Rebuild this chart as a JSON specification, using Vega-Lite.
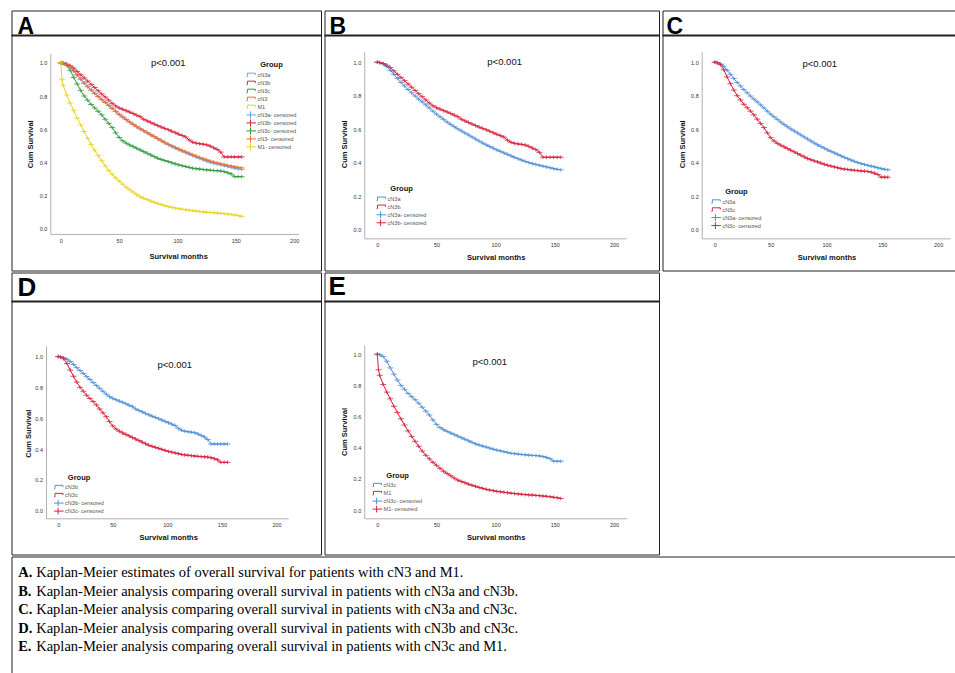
{
 "$schema": "https://vega.github.io/schema/vega-lite/v6.json",
 "padding": {"left": 9.5, "top": 9.5, "right": 0, "bottom": 0},
 "background": "white",
 "datasets": {
  "cens": [{"g":"cN3a","c":"cN3a- censored"},{"g":"cN3b","c":"cN3b- censored"},{"g":"cN3c","c":"cN3c- censored"},{"g":"cN3","c":"cN3- censored"},{"g":"M1","c":"M1- censored"}],
  "km": [
{"g":"cN3a","t":0,"s":1},{"g":"cN3a","t":2,"s":0.998},{"g":"cN3a","t":5,"s":0.99},{"g":"cN3a","t":8,"s":0.975},{"g":"cN3a","t":11,"s":0.952},{"g":"cN3a","t":14,"s":0.928},{"g":"cN3a","t":17,"s":0.903},{"g":"cN3a","t":20,"s":0.879},{"g":"cN3a","t":23,"s":0.858},{"g":"cN3a","t":26,"s":0.837},{"g":"cN3a","t":29,"s":0.817},{"g":"cN3a","t":32,"s":0.798},{"g":"cN3a","t":35,"s":0.78},{"g":"cN3a","t":38,"s":0.763},{"g":"cN3a","t":41,"s":0.745},{"g":"cN3a","t":44,"s":0.727},{"g":"cN3a","t":47,"s":0.708},{"g":"cN3a","t":50,"s":0.69},{"g":"cN3a","t":53,"s":0.674},{"g":"cN3a","t":56,"s":0.659},{"g":"cN3a","t":59,"s":0.643},{"g":"cN3a","t":62,"s":0.629},{"g":"cN3a","t":65,"s":0.615},{"g":"cN3a","t":68,"s":0.602},{"g":"cN3a","t":71,"s":0.59},{"g":"cN3a","t":74,"s":0.578},{"g":"cN3a","t":77,"s":0.566},{"g":"cN3a","t":80,"s":0.554},{"g":"cN3a","t":83,"s":0.542},{"g":"cN3a","t":86,"s":0.53},{"g":"cN3a","t":89,"s":0.518},{"g":"cN3a","t":92,"s":0.507},{"g":"cN3a","t":95,"s":0.497},{"g":"cN3a","t":98,"s":0.487},{"g":"cN3a","t":101,"s":0.477},{"g":"cN3a","t":104,"s":0.468},{"g":"cN3a","t":107,"s":0.459},{"g":"cN3a","t":110,"s":0.45},{"g":"cN3a","t":113,"s":0.441},{"g":"cN3a","t":116,"s":0.432},{"g":"cN3a","t":119,"s":0.424},{"g":"cN3a","t":122,"s":0.416},{"g":"cN3a","t":125,"s":0.408},{"g":"cN3a","t":128,"s":0.401},{"g":"cN3a","t":131,"s":0.395},{"g":"cN3a","t":134,"s":0.39},{"g":"cN3a","t":137,"s":0.385},{"g":"cN3a","t":140,"s":0.38},{"g":"cN3a","t":143,"s":0.375},{"g":"cN3a","t":146,"s":0.37},{"g":"cN3a","t":149,"s":0.365},{"g":"cN3a","t":152,"s":0.361},{"g":"cN3a","t":155,"s":0.358},
{"g":"cN3b","t":0,"s":1},{"g":"cN3b","t":2,"s":0.998},{"g":"cN3b","t":5,"s":0.992},{"g":"cN3b","t":8,"s":0.982},{"g":"cN3b","t":11,"s":0.968},{"g":"cN3b","t":14,"s":0.948},{"g":"cN3b","t":17,"s":0.928},{"g":"cN3b","t":20,"s":0.909},{"g":"cN3b","t":23,"s":0.89},{"g":"cN3b","t":26,"s":0.87},{"g":"cN3b","t":29,"s":0.851},{"g":"cN3b","t":32,"s":0.831},{"g":"cN3b","t":35,"s":0.812},{"g":"cN3b","t":38,"s":0.794},{"g":"cN3b","t":41,"s":0.775},{"g":"cN3b","t":44,"s":0.756},{"g":"cN3b","t":47,"s":0.74},{"g":"cN3b","t":50,"s":0.728},{"g":"cN3b","t":53,"s":0.72},{"g":"cN3b","t":56,"s":0.711},{"g":"cN3b","t":59,"s":0.703},{"g":"cN3b","t":62,"s":0.694},{"g":"cN3b","t":65,"s":0.684},{"g":"cN3b","t":68,"s":0.675},{"g":"cN3b","t":71,"s":0.66},{"g":"cN3b","t":74,"s":0.65},{"g":"cN3b","t":77,"s":0.641},{"g":"cN3b","t":80,"s":0.631},{"g":"cN3b","t":83,"s":0.622},{"g":"cN3b","t":86,"s":0.613},{"g":"cN3b","t":89,"s":0.605},{"g":"cN3b","t":92,"s":0.597},{"g":"cN3b","t":95,"s":0.588},{"g":"cN3b","t":98,"s":0.579},{"g":"cN3b","t":101,"s":0.57},{"g":"cN3b","t":104,"s":0.562},{"g":"cN3b","t":107,"s":0.553},{"g":"cN3b","t":110,"s":0.535},{"g":"cN3b","t":113,"s":0.522},{"g":"cN3b","t":116,"s":0.516},{"g":"cN3b","t":119,"s":0.512},{"g":"cN3b","t":122,"s":0.51},{"g":"cN3b","t":125,"s":0.506},{"g":"cN3b","t":128,"s":0.498},{"g":"cN3b","t":131,"s":0.488},{"g":"cN3b","t":134,"s":0.478},{"g":"cN3b","t":137,"s":0.462},{"g":"cN3b","t":140,"s":0.433},{"g":"cN3b","t":143,"s":0.433},{"g":"cN3b","t":146,"s":0.433},{"g":"cN3b","t":149,"s":0.433},{"g":"cN3b","t":152,"s":0.433},{"g":"cN3b","t":155,"s":0.433},
{"g":"cN3c","t":0,"s":1},{"g":"cN3c","t":2,"s":0.997},{"g":"cN3c","t":5,"s":0.985},{"g":"cN3c","t":8,"s":0.955},{"g":"cN3c","t":11,"s":0.912},{"g":"cN3c","t":14,"s":0.872},{"g":"cN3c","t":17,"s":0.834},{"g":"cN3c","t":20,"s":0.8},{"g":"cN3c","t":23,"s":0.775},{"g":"cN3c","t":26,"s":0.749},{"g":"cN3c","t":29,"s":0.728},{"g":"cN3c","t":32,"s":0.708},{"g":"cN3c","t":35,"s":0.686},{"g":"cN3c","t":38,"s":0.66},{"g":"cN3c","t":41,"s":0.635},{"g":"cN3c","t":44,"s":0.61},{"g":"cN3c","t":47,"s":0.578},{"g":"cN3c","t":50,"s":0.55},{"g":"cN3c","t":53,"s":0.53},{"g":"cN3c","t":56,"s":0.516},{"g":"cN3c","t":59,"s":0.505},{"g":"cN3c","t":62,"s":0.495},{"g":"cN3c","t":65,"s":0.485},{"g":"cN3c","t":68,"s":0.475},{"g":"cN3c","t":71,"s":0.465},{"g":"cN3c","t":74,"s":0.455},{"g":"cN3c","t":77,"s":0.445},{"g":"cN3c","t":80,"s":0.435},{"g":"cN3c","t":83,"s":0.425},{"g":"cN3c","t":86,"s":0.418},{"g":"cN3c","t":89,"s":0.411},{"g":"cN3c","t":92,"s":0.405},{"g":"cN3c","t":95,"s":0.398},{"g":"cN3c","t":98,"s":0.391},{"g":"cN3c","t":101,"s":0.385},{"g":"cN3c","t":104,"s":0.38},{"g":"cN3c","t":107,"s":0.375},{"g":"cN3c","t":110,"s":0.37},{"g":"cN3c","t":113,"s":0.365},{"g":"cN3c","t":116,"s":0.362},{"g":"cN3c","t":119,"s":0.36},{"g":"cN3c","t":122,"s":0.357},{"g":"cN3c","t":125,"s":0.355},{"g":"cN3c","t":128,"s":0.353},{"g":"cN3c","t":131,"s":0.351},{"g":"cN3c","t":134,"s":0.35},{"g":"cN3c","t":137,"s":0.348},{"g":"cN3c","t":140,"s":0.344},{"g":"cN3c","t":143,"s":0.338},{"g":"cN3c","t":146,"s":0.33},{"g":"cN3c","t":149,"s":0.314},{"g":"cN3c","t":152,"s":0.314},{"g":"cN3c","t":155,"s":0.314},
{"g":"cN3","t":0,"s":1},{"g":"cN3","t":2,"s":0.998},{"g":"cN3","t":5,"s":0.99},{"g":"cN3","t":8,"s":0.975},{"g":"cN3","t":11,"s":0.951},{"g":"cN3","t":14,"s":0.926},{"g":"cN3","t":17,"s":0.901},{"g":"cN3","t":20,"s":0.877},{"g":"cN3","t":23,"s":0.856},{"g":"cN3","t":26,"s":0.835},{"g":"cN3","t":29,"s":0.815},{"g":"cN3","t":32,"s":0.796},{"g":"cN3","t":35,"s":0.778},{"g":"cN3","t":38,"s":0.761},{"g":"cN3","t":41,"s":0.743},{"g":"cN3","t":44,"s":0.725},{"g":"cN3","t":47,"s":0.707},{"g":"cN3","t":50,"s":0.689},{"g":"cN3","t":53,"s":0.673},{"g":"cN3","t":56,"s":0.658},{"g":"cN3","t":59,"s":0.643},{"g":"cN3","t":62,"s":0.629},{"g":"cN3","t":65,"s":0.616},{"g":"cN3","t":68,"s":0.603},{"g":"cN3","t":71,"s":0.591},{"g":"cN3","t":74,"s":0.579},{"g":"cN3","t":77,"s":0.567},{"g":"cN3","t":80,"s":0.556},{"g":"cN3","t":83,"s":0.544},{"g":"cN3","t":86,"s":0.533},{"g":"cN3","t":89,"s":0.521},{"g":"cN3","t":92,"s":0.51},{"g":"cN3","t":95,"s":0.5},{"g":"cN3","t":98,"s":0.49},{"g":"cN3","t":101,"s":0.481},{"g":"cN3","t":104,"s":0.472},{"g":"cN3","t":107,"s":0.463},{"g":"cN3","t":110,"s":0.455},{"g":"cN3","t":113,"s":0.446},{"g":"cN3","t":116,"s":0.438},{"g":"cN3","t":119,"s":0.43},{"g":"cN3","t":122,"s":0.422},{"g":"cN3","t":125,"s":0.415},{"g":"cN3","t":128,"s":0.408},{"g":"cN3","t":131,"s":0.402},{"g":"cN3","t":134,"s":0.397},{"g":"cN3","t":137,"s":0.392},{"g":"cN3","t":140,"s":0.387},{"g":"cN3","t":143,"s":0.382},{"g":"cN3","t":146,"s":0.378},{"g":"cN3","t":149,"s":0.374},{"g":"cN3","t":152,"s":0.37},{"g":"cN3","t":155,"s":0.367},
{"g":"M1","t":0,"s":1},{"g":"M1","t":1,"s":0.9},{"g":"M1","t":2,"s":0.865},{"g":"M1","t":5,"s":0.806},{"g":"M1","t":8,"s":0.757},{"g":"M1","t":11,"s":0.714},{"g":"M1","t":14,"s":0.666},{"g":"M1","t":17,"s":0.626},{"g":"M1","t":20,"s":0.586},{"g":"M1","t":23,"s":0.546},{"g":"M1","t":26,"s":0.508},{"g":"M1","t":29,"s":0.473},{"g":"M1","t":32,"s":0.441},{"g":"M1","t":35,"s":0.41},{"g":"M1","t":38,"s":0.379},{"g":"M1","t":41,"s":0.352},{"g":"M1","t":44,"s":0.329},{"g":"M1","t":47,"s":0.307},{"g":"M1","t":50,"s":0.288},{"g":"M1","t":53,"s":0.269},{"g":"M1","t":56,"s":0.25},{"g":"M1","t":59,"s":0.235},{"g":"M1","t":62,"s":0.221},{"g":"M1","t":65,"s":0.206},{"g":"M1","t":68,"s":0.193},{"g":"M1","t":71,"s":0.184},{"g":"M1","t":74,"s":0.176},{"g":"M1","t":77,"s":0.167},{"g":"M1","t":80,"s":0.16},{"g":"M1","t":83,"s":0.153},{"g":"M1","t":86,"s":0.146},{"g":"M1","t":89,"s":0.14},{"g":"M1","t":92,"s":0.134},{"g":"M1","t":95,"s":0.129},{"g":"M1","t":98,"s":0.125},{"g":"M1","t":101,"s":0.121},{"g":"M1","t":104,"s":0.118},{"g":"M1","t":107,"s":0.115},{"g":"M1","t":110,"s":0.112},{"g":"M1","t":113,"s":0.109},{"g":"M1","t":116,"s":0.107},{"g":"M1","t":119,"s":0.104},{"g":"M1","t":122,"s":0.102},{"g":"M1","t":125,"s":0.1},{"g":"M1","t":128,"s":0.098},{"g":"M1","t":131,"s":0.097},{"g":"M1","t":134,"s":0.095},{"g":"M1","t":137,"s":0.093},{"g":"M1","t":140,"s":0.091},{"g":"M1","t":143,"s":0.089},{"g":"M1","t":146,"s":0.086},{"g":"M1","t":149,"s":0.083},{"g":"M1","t":152,"s":0.08},{"g":"M1","t":155,"s":0.075}
  ]
 },
 "spacing": 0,
 "resolve": {"scale": {"color": "independent", "shape": "independent", "stroke": "independent"}, "legend": {"color": "independent", "shape": "independent"}},
 "vconcat": [
  {"hconcat": [
   {"width": 309.5, "height": 260, "layer": [
     {"data": {"values": [{}]}, "mark": {"type": "rule", "color": "#222222", "strokeWidth": 2}, "encoding": {"x": {"datum": -42.29, "type": "quantitative"}, "x2": {"datum": 222.99}, "y": {"datum": 1.1645, "type": "quantitative"}}},
     {"data": {"values": [{"k": "A"}]}, "mark": {"type": "text", "align": "left", "baseline": "alphabetic", "fontSize": 23, "fontWeight": "bold", "color": "#000"}, "encoding": {"x": {"datum": -37.15, "type": "quantitative"}, "y": {"datum": 1.1747, "type": "quantitative"}, "text": {"field": "k"}}},
     {"data": {"values": [{}]}, "mark": {"type": "rule", "color": "#b0b0b0", "strokeWidth": 1}, "encoding": {"x": {"datum": -8.6, "type": "quantitative"}, "y": {"datum": -0.034, "type": "quantitative"}, "y2": {"datum": 1.054}}},
     {"data": {"values": [{}]}, "mark": {"type": "rule", "color": "#b0b0b0", "strokeWidth": 1}, "encoding": {"x": {"datum": -8.6, "type": "quantitative"}, "x2": {"datum": 204}, "y": {"datum": -0.034, "type": "quantitative"}}},
     {"data": {"name": "km"}, "transform": [{"filter": {"field": "g", "oneOf": ["cN3a","cN3b","cN3c","cN3","M1"]}}],
      "mark": {"type": "line", "strokeWidth": 1},
      "encoding": {
       "x": {"field": "t", "type": "quantitative", "title": "Survival months", "scale": {"domain": [-42.29, 222.99], "nice": false, "zero": false}, "axis": {"values": [0,50,100,150,200], "offset": -36, "labelPadding": 3.5, "titleX": 166.7, "titleY": 21.7, "titleBaseline": "middle"}},
       "y": {"field": "s", "type": "quantitative", "title": "Cum Survival", "scale": {"domain": [-0.2512, 1.3151], "nice": false, "zero": false}, "axis": {"values": [0,0.2,0.4,0.6,0.8,1], "format": ".1f", "offset": -39.3, "labelPadding": 4, "titleX": -20.3, "titleY": 133.3, "titleBaseline": "middle"}},
       "stroke": {"field": "g", "type": "nominal", "legend": null, "scale": {"domain": ["cN3a","cN3b","cN3c","cN3","M1"], "range": ["#6fa3dd","#d91f3b","#2f9a3b","#f26b2c","#e8d41e"]}}
      }},
     {"data": {"name": "km"}, "transform": [{"filter": {"field": "g", "oneOf": ["cN3a","cN3b","cN3c","cN3","M1"]}}, {"lookup": "g", "from": {"data": {"name": "cens"}, "key": "g", "fields": ["c"]}}],
      "mark": {"type": "point", "filled": false, "strokeWidth": 0.8, "size": 14, "opacity": 1},
      "encoding": {
       "x": {"field": "t", "type": "quantitative", "title": "Survival months"},
       "y": {"field": "s", "type": "quantitative", "title": "Cum Survival"},
       "color": {"field": "c", "type": "nominal", "scale": {"domain": ["cN3a","cN3b","cN3c","cN3","M1","cN3a- censored","cN3b- censored","cN3c- censored","cN3- censored","M1- censored"], "range": ["#6fa3dd","#d91f3b","#2f9a3b","#f26b2c","#e8d41e","#6fa3dd","#d91f3b","#2f9a3b","#f26b2c","#e8d41e"]}, "legend": {"title": "Group", "orient": "none", "legendX": 235, "legendY": 50.5, "clipHeight": 7.8}},
       "shape": {"field": "c", "type": "nominal", "scale": {"domain": ["cN3a","cN3b","cN3c","cN3","M1","cN3a- censored","cN3b- censored","cN3c- censored","cN3- censored","M1- censored"], "range": ["M-1.5,0.5H-0.9V-0.5H1.4V0","M-1.5,0.5H-0.9V-0.5H1.4V0","M-1.5,0.5H-0.9V-0.5H1.4V0","M-1.5,0.5H-0.9V-0.5H1.4V0","M-1.5,0.5H-0.9V-0.5H1.4V0","M-1.6,0H1.6M0,-1V1","M-1.6,0H1.6M0,-1V1","M-1.6,0H1.6M0,-1V1","M-1.6,0H1.6M0,-1V1","M-1.6,0H1.6M0,-1V1"]}, "legend": {"title": "Group", "orient": "none", "legendX": 235, "legendY": 50.5, "clipHeight": 7.8}}
      }},
     {"data": {"values": [{"p": "p<0.001"}]}, "mark": {"type": "text", "fontSize": 9.5, "color": "#111"}, "encoding": {"x": {"datum": 92, "type": "quantitative"}, "y": {"datum": 1.0, "type": "quantitative"}, "text": {"field": "p"}}}
   ]},
   {"width": 334.5, "height": 260, "layer": [
     {"data": {"values": [{}]}, "mark": {"type": "rule", "color": "#222222", "strokeWidth": 2}, "encoding": {"x": {"datum": -44.61, "type": "quantitative"}, "x2": {"datum": 238.03}, "y": {"datum": 1.1593, "type": "quantitative"}}},
     {"data": {"values": [{"k": "B"}]}, "mark": {"type": "text", "align": "left", "baseline": "alphabetic", "fontSize": 23, "fontWeight": "bold", "color": "#000"}, "encoding": {"x": {"datum": -40.38, "type": "quantitative"}, "y": {"datum": 1.1695, "type": "quantitative"}, "text": {"field": "k"}}},
     {"data": {"values": [{}]}, "mark": {"type": "rule", "color": "#b0b0b0", "strokeWidth": 1}, "encoding": {"x": {"datum": -10.6, "type": "quantitative"}, "y": {"datum": -0.054, "type": "quantitative"}, "y2": {"datum": 1.06}}},
     {"data": {"values": [{}]}, "mark": {"type": "rule", "color": "#b0b0b0", "strokeWidth": 1}, "encoding": {"x": {"datum": -10.6, "type": "quantitative"}, "x2": {"datum": 210.7}, "y": {"datum": -0.054, "type": "quantitative"}}},
     {"data": {"name": "km"}, "transform": [{"filter": {"field": "g", "oneOf": ["cN3a","cN3b"]}}],
      "mark": {"type": "line", "strokeWidth": 1},
      "encoding": {
       "x": {"field": "t", "type": "quantitative", "title": "Survival months", "scale": {"domain": [-44.61, 238.03], "nice": false, "zero": false}, "axis": {"values": [0,50,100,150,200], "offset": -31.7, "labelPadding": 3.5, "titleX": 171.2, "titleY": 19, "titleBaseline": "middle"}},
       "y": {"field": "s", "type": "quantitative", "title": "Cum Survival", "scale": {"domain": [-0.2428, 1.3085], "nice": false, "zero": false}, "axis": {"values": [0,0.2,0.4,0.6,0.8,1], "format": ".1f", "offset": -40.2, "labelPadding": 4, "titleX": -20, "titleY": 133.3, "titleBaseline": "middle"}},
       "stroke": {"field": "g", "type": "nominal", "legend": null, "scale": {"domain": ["cN3a","cN3b"], "range": ["#4d8fd9","#d91f3b"]}}
      }},
     {"data": {"name": "km"}, "transform": [{"filter": {"field": "g", "oneOf": ["cN3a","cN3b"]}}, {"lookup": "g", "from": {"data": {"name": "cens"}, "key": "g", "fields": ["c"]}}],
      "mark": {"type": "point", "filled": false, "strokeWidth": 0.8, "size": 14, "opacity": 1},
      "encoding": {
       "x": {"field": "t", "type": "quantitative", "title": "Survival months"},
       "y": {"field": "s", "type": "quantitative", "title": "Cum Survival"},
       "color": {"field": "c", "type": "nominal", "scale": {"domain": ["cN3a","cN3b","cN3a- censored","cN3b- censored"], "range": ["#4d8fd9","#d91f3b","#4d8fd9","#d91f3b"]}, "legend": {"title": "Group", "orient": "none", "legendX": 52.1, "legendY": 174.5, "clipHeight": 7.6}},
       "shape": {"field": "c", "type": "nominal", "scale": {"domain": ["cN3a","cN3b","cN3a- censored","cN3b- censored"], "range": ["M-1.5,0.5H-0.9V-0.5H1.4V0","M-1.5,0.5H-0.9V-0.5H1.4V0","M-1.6,0H1.6M0,-1V1","M-1.6,0H1.6M0,-1V1"]}, "legend": {"title": "Group", "orient": "none", "legendX": 52.1, "legendY": 174.5, "clipHeight": 7.6}}
      }},
     {"data": {"values": [{"p": "p<0.001"}]}, "mark": {"type": "text", "fontSize": 9.5, "color": "#111"}, "encoding": {"x": {"datum": 107.6, "type": "quantitative"}, "y": {"datum": 1.0, "type": "quantitative"}, "text": {"field": "p"}}}
   ]},
   {"width": 299, "height": 260, "layer": [
     {"data": {"values": [{}]}, "mark": {"type": "rule", "color": "#222222", "strokeWidth": 2}, "encoding": {"x": {"datum": -46.84, "type": "quantitative"}, "x2": {"datum": 220.9}, "y": {"datum": 1.1593, "type": "quantitative"}}},
     {"data": {"values": [{"k": "C"}]}, "mark": {"type": "text", "align": "left", "baseline": "alphabetic", "fontSize": 23, "fontWeight": "bold", "color": "#000"}, "encoding": {"x": {"datum": -43.26, "type": "quantitative"}, "y": {"datum": 1.1695, "type": "quantitative"}, "text": {"field": "k"}}},
     {"data": {"values": [{}]}, "mark": {"type": "rule", "color": "#b0b0b0", "strokeWidth": 1}, "encoding": {"x": {"datum": -11.3, "type": "quantitative"}, "y": {"datum": -0.054, "type": "quantitative"}, "y2": {"datum": 1.06}}},
     {"data": {"values": [{}]}, "mark": {"type": "rule", "color": "#b0b0b0", "strokeWidth": 1}, "encoding": {"x": {"datum": -11.3, "type": "quantitative"}, "x2": {"datum": 211.3}, "y": {"datum": -0.054, "type": "quantitative"}}},
     {"data": {"name": "km"}, "transform": [{"filter": {"field": "g", "oneOf": ["cN3a","cN3c"]}}],
      "mark": {"type": "line", "strokeWidth": 1},
      "encoding": {
       "x": {"field": "t", "type": "quantitative", "title": "Survival months", "scale": {"domain": [-46.84, 220.9], "nice": false, "zero": false}, "axis": {"values": [0,50,100,150,200], "offset": -31.7, "labelPadding": 3.5, "titleX": 164, "titleY": 19, "titleBaseline": "middle"}},
       "y": {"field": "s", "type": "quantitative", "title": "Cum Survival", "scale": {"domain": [-0.2428, 1.3085], "nice": false, "zero": false}, "axis": {"values": [0,0.2,0.4,0.6,0.8,1], "format": ".1f", "offset": -39.7, "labelPadding": 4, "titleX": -20, "titleY": 133.3, "titleBaseline": "middle"}},
       "stroke": {"field": "g", "type": "nominal", "legend": null, "scale": {"domain": ["cN3a","cN3c"], "range": ["#4d8fd9","#d91f3b"]}}
      }},
     {"data": {"name": "km"}, "transform": [{"filter": {"field": "g", "oneOf": ["cN3a","cN3c"]}}, {"lookup": "g", "from": {"data": {"name": "cens"}, "key": "g", "fields": ["c"]}}],
      "mark": {"type": "point", "filled": false, "strokeWidth": 0.8, "size": 14, "opacity": 1},
      "encoding": {
       "x": {"field": "t", "type": "quantitative", "title": "Survival months"},
       "y": {"field": "s", "type": "quantitative", "title": "Cum Survival"},
       "color": {"field": "c", "type": "nominal", "scale": {"domain": ["cN3a","cN3c","cN3a- censored","cN3c- censored"], "range": ["#4d8fd9","#d91f3b","#4d8fd9","#d91f3b"]}, "legend": {"title": "Group", "orient": "none", "legendX": 48.9, "legendY": 177.2, "clipHeight": 7.7}},
       "shape": {"field": "c", "type": "nominal", "scale": {"domain": ["cN3a","cN3c","cN3a- censored","cN3c- censored"], "range": ["M-1.5,0.5H-0.9V-0.5H1.4V0","M-1.5,0.5H-0.9V-0.5H1.4V0","M-1.6,0H1.6M0,-1V1","M-1.6,0H1.6M0,-1V1"]}, "legend": {"title": "Group", "orient": "none", "legendX": 48.9, "legendY": 177.2, "clipHeight": 7.7}}
      }},
     {"data": {"values": [{"p": "p<0.001"}]}, "mark": {"type": "text", "fontSize": 9.5, "color": "#111"}, "encoding": {"x": {"datum": 94, "type": "quantitative"}, "y": {"datum": 0.99, "type": "quantitative"}, "text": {"field": "p"}}}
   ]}
  ], "spacing": 0, "resolve": {"scale": {"color": "independent", "shape": "independent", "stroke": "independent"}, "legend": {"color": "independent", "shape": "independent"}}},
  {"hconcat": [
   {"width": 309.5, "height": 282, "layer": [
     {"data": {"values": [{}]}, "mark": {"type": "rule", "color": "#222222", "strokeWidth": 2}, "encoding": {"x": {"datum": -42.78, "type": "quantitative"}, "x2": {"datum": 240.72}, "y": {"datum": 1.3565, "type": "quantitative"}}},
     {"data": {"values": [{"k": "D"}]}, "mark": {"type": "text", "align": "left", "baseline": "alphabetic", "fontSize": 26, "fontWeight": "bold", "color": "#000"}, "encoding": {"x": {"datum": -37.28, "type": "quantitative"}, "y": {"datum": 1.3953, "type": "quantitative"}, "text": {"field": "k"}}},
     {"data": {"values": [{}]}, "mark": {"type": "rule", "color": "#b0b0b0", "strokeWidth": 1}, "encoding": {"x": {"datum": -10.7, "type": "quantitative"}, "y": {"datum": -0.052, "type": "quantitative"}, "y2": {"datum": 1.065}}},
     {"data": {"values": [{}]}, "mark": {"type": "rule", "color": "#b0b0b0", "strokeWidth": 1}, "encoding": {"x": {"datum": -10.7, "type": "quantitative"}, "x2": {"datum": 211.2}, "y": {"datum": -0.052, "type": "quantitative"}}},
     {"data": {"name": "km"}, "transform": [{"filter": {"field": "g", "oneOf": ["cN3b","cN3c"]}}],
      "mark": {"type": "line", "strokeWidth": 1},
      "encoding": {
       "x": {"field": "t", "type": "quantitative", "title": "Survival months", "scale": {"domain": [-42.78, 240.72], "nice": false, "zero": false}, "axis": {"values": [0,50,100,150,200], "offset": -35.7, "labelPadding": 3.5, "titleX": 156.7, "titleY": 18.4, "titleBaseline": "middle"}},
       "y": {"field": "s", "type": "quantitative", "title": "Cum Survival", "scale": {"domain": [-0.2832, 1.5444], "nice": false, "zero": false}, "axis": {"values": [0,0.2,0.4,0.6,0.8,1], "format": ".1f", "offset": -35, "labelPadding": 4, "titleX": -18.3, "titleY": 160.7, "titleBaseline": "middle"}},
       "stroke": {"field": "g", "type": "nominal", "legend": null, "scale": {"domain": ["cN3b","cN3c"], "range": ["#4d8fd9","#d91f3b"]}}
      }},
     {"data": {"name": "km"}, "transform": [{"filter": {"field": "g", "oneOf": ["cN3b","cN3c"]}}, {"lookup": "g", "from": {"data": {"name": "cens"}, "key": "g", "fields": ["c"]}}],
      "mark": {"type": "point", "filled": false, "strokeWidth": 0.8, "size": 14, "opacity": 1},
      "encoding": {
       "x": {"field": "t", "type": "quantitative", "title": "Survival months"},
       "y": {"field": "s", "type": "quantitative", "title": "Cum Survival"},
       "color": {"field": "c", "type": "nominal", "scale": {"domain": ["cN3b","cN3c","cN3b- censored","cN3c- censored"], "range": ["#4d8fd9","#d91f3b","#4d8fd9","#d91f3b"]}, "legend": {"title": "Group", "orient": "none", "legendX": 42.6, "legendY": 201, "clipHeight": 7.2}},
       "shape": {"field": "c", "type": "nominal", "scale": {"domain": ["cN3b","cN3c","cN3b- censored","cN3c- censored"], "range": ["M-1.5,0.5H-0.9V-0.5H1.4V0","M-1.5,0.5H-0.9V-0.5H1.4V0","M-1.6,0H1.6M0,-1V1","M-1.6,0H1.6M0,-1V1"]}, "legend": {"title": "Group", "orient": "none", "legendX": 42.6, "legendY": 201, "clipHeight": 7.2}}
      }},
     {"data": {"values": [{"p": "p<0.001"}]}, "mark": {"type": "text", "fontSize": 9.5, "color": "#111"}, "encoding": {"x": {"datum": 106.8, "type": "quantitative"}, "y": {"datum": 0.946, "type": "quantitative"}, "text": {"field": "p"}}}
   ]},
   {"width": 334.5, "height": 282, "layer": [
     {"data": {"values": [{}]}, "mark": {"type": "rule", "color": "#222222", "strokeWidth": 2}, "encoding": {"x": {"datum": -44.61, "type": "quantitative"}, "x2": {"datum": 238.03}, "y": {"datum": 1.3378, "type": "quantitative"}}},
     {"data": {"values": [{"k": "E"}]}, "mark": {"type": "text", "align": "left", "baseline": "alphabetic", "fontSize": 26, "fontWeight": "bold", "color": "#000"}, "encoding": {"x": {"datum": -41.23, "type": "quantitative"}, "y": {"datum": 1.3763, "type": "quantitative"}, "text": {"field": "k"}}},
     {"data": {"values": [{}]}, "mark": {"type": "rule", "color": "#b0b0b0", "strokeWidth": 1}, "encoding": {"x": {"datum": -10.6, "type": "quantitative"}, "y": {"datum": -0.055, "type": "quantitative"}, "y2": {"datum": 1.056}}},
     {"data": {"values": [{}]}, "mark": {"type": "rule", "color": "#b0b0b0", "strokeWidth": 1}, "encoding": {"x": {"datum": -10.6, "type": "quantitative"}, "x2": {"datum": 211.2}, "y": {"datum": -0.055, "type": "quantitative"}}},
     {"data": {"name": "km"}, "transform": [{"filter": {"field": "g", "oneOf": ["cN3c","M1"]}}],
      "mark": {"type": "line", "strokeWidth": 1},
      "encoding": {
       "x": {"field": "t", "type": "quantitative", "title": "Survival months", "scale": {"domain": [-44.61, 238.03], "nice": false, "zero": false}, "axis": {"values": [0,50,100,150,200], "offset": -35.7, "labelPadding": 3.5, "titleX": 171.2, "titleY": 18.4, "titleBaseline": "middle"}},
       "y": {"field": "s", "type": "quantitative", "title": "Cum Survival", "scale": {"domain": [-0.284, 1.5237], "nice": false, "zero": false}, "axis": {"values": [0,0.2,0.4,0.6,0.8,1], "format": ".1f", "offset": -40.2, "labelPadding": 4, "titleX": -20, "titleY": 159, "titleBaseline": "middle"}},
       "stroke": {"field": "g", "type": "nominal", "legend": null, "scale": {"domain": ["cN3c","M1"], "range": ["#4d8fd9","#d91f3b"]}}
      }},
     {"data": {"name": "km"}, "transform": [{"filter": {"field": "g", "oneOf": ["cN3c","M1"]}}, {"lookup": "g", "from": {"data": {"name": "cens"}, "key": "g", "fields": ["c"]}}],
      "mark": {"type": "point", "filled": false, "strokeWidth": 0.8, "size": 14, "opacity": 1},
      "encoding": {
       "x": {"field": "t", "type": "quantitative", "title": "Survival months"},
       "y": {"field": "s", "type": "quantitative", "title": "Cum Survival"},
       "color": {"field": "c", "type": "nominal", "scale": {"domain": ["cN3c","M1","cN3c- censored","M1- censored"], "range": ["#4d8fd9","#d91f3b","#4d8fd9","#d91f3b"]}, "legend": {"title": "Group", "orient": "none", "legendX": 48.1, "legendY": 199, "clipHeight": 7.2}},
       "shape": {"field": "c", "type": "nominal", "scale": {"domain": ["cN3c","M1","cN3c- censored","M1- censored"], "range": ["M-1.5,0.5H-0.9V-0.5H1.4V0","M-1.5,0.5H-0.9V-0.5H1.4V0","M-1.6,0H1.6M0,-1V1","M-1.6,0H1.6M0,-1V1"]}, "legend": {"title": "Group", "orient": "none", "legendX": 48.1, "legendY": 199, "clipHeight": 7.2}}
      }},
     {"data": {"values": [{"p": "p<0.001"}]}, "mark": {"type": "text", "fontSize": 9.5, "color": "#111"}, "encoding": {"x": {"datum": 95, "type": "quantitative"}, "y": {"datum": 0.949, "type": "quantitative"}, "text": {"field": "p"}}}
   ]},
   {"width": 299, "height": 282, "data": {"values": [{}]}, "mark": {"type": "text"}, "encoding": {"text": {"value": ""}}}
  ], "spacing": 0, "resolve": {"scale": {"color": "independent", "shape": "independent", "stroke": "independent"}, "legend": {"color": "independent", "shape": "independent"}}},
  {"width": 945, "height": 120,
   "data": {"values": [
    {"i": 0, "k": "A.", "r": "Kaplan-Meier estimates of overall survival for patients with cN3 and M1."},
    {"i": 1, "k": "B.", "r": "Kaplan-Meier analysis comparing overall survival in patients with cN3a and cN3b."},
    {"i": 2, "k": "C.", "r": "Kaplan-Meier analysis comparing overall survival in patients with cN3a and cN3c."},
    {"i": 3, "k": "D.", "r": "Kaplan-Meier analysis comparing overall survival in patients with cN3b and cN3c."},
    {"i": 4, "k": "E.", "r": "Kaplan-Meier analysis comparing overall survival in patients with cN3c and M1."}
   ]},
   "layer": [
    {"mark": {"type": "text", "align": "left", "baseline": "alphabetic", "font": "Liberation Serif", "fontSize": 14.5, "fontWeight": "bold", "color": "#000"},
     "encoding": {"x": {"datum": 0, "type": "quantitative", "scale": {"domain": [-0.67, 93.83], "nice": false, "zero": false}, "axis": null},
      "y": {"field": "i", "type": "quantitative", "scale": {"domain": [-1.141, 5.38], "reverse": true, "nice": false, "zero": false}, "axis": null},
      "text": {"field": "k"}}},
    {"mark": {"type": "text", "align": "left", "baseline": "alphabetic", "font": "Liberation Serif", "fontSize": 14.5, "color": "#000", "dx": 18},
     "encoding": {"x": {"datum": 0, "type": "quantitative"},
      "y": {"field": "i", "type": "quantitative"},
      "text": {"field": "r"}}}
   ]}
 ],
 "config": {
  "view": {"stroke": "#222222", "strokeWidth": 1},
  "font": "Liberation Sans",
  "axis": {"grid": false, "domain": false, "ticks": false, "labelFontSize": 5.5, "labelColor": "#333", "titleFontSize": 7.5, "titleFontWeight": "bold", "titleColor": "#111", "labelFont": "Liberation Sans", "titleFont": "Liberation Sans"},
  "legend": {"titleFontSize": 7.5, "titleFontWeight": "bold", "titleColor": "#111", "titleAnchor": "middle", "labelFontSize": 5.5, "labelColor": "#555", "symbolSize": 48, "rowPadding": 0, "titlePadding": 2.5, "labelOffset": 3, "symbolStrokeWidth": 1, "padding": 0},
  "title": {"font": "Liberation Sans"}
 }
}
